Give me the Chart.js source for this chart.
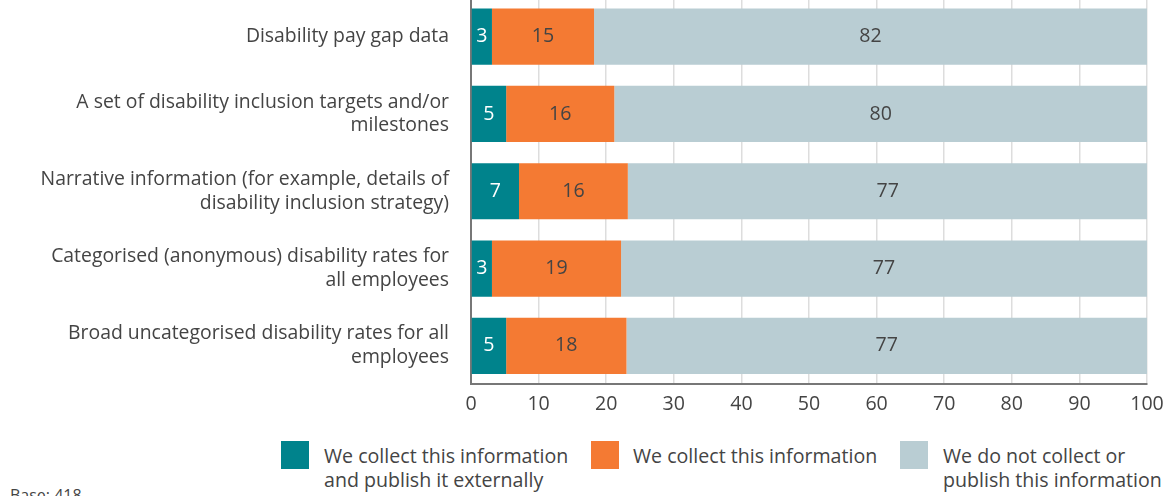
<!DOCTYPE html>
<html>
<head>
<meta charset="utf-8">
<script src="https://cdn.jsdelivr.net/npm/chart.js@4/dist/chart.umd.min.js"></script>
<style>
    body { margin: 0; background: #fff; }
    #wrap { position: relative; width: 1175px; height: 496px; overflow: hidden; font-family: "Open Sans", sans-serif; color: #444; }
    #chartBox { position: absolute; left: 0; top: -2px; width: 1175px; height: 426px; }
    .swatch { position: absolute; width: 28px; height: 28px; top: 441px; }
    .legText { position: absolute; top: 444px; font-size: 19.6px; line-height: 24px; white-space: nowrap; }
    #base { position: absolute; left: 10px; top: 484px; font-size: 16px; }
</style>
</head>
<body>
<div id="wrap">
    <div id="chartBox"><canvas id="gapChart"></canvas></div>
    <div class="swatch" style="left:281px;background:#00838c"></div>
    <div class="legText" style="left:324px">We collect this information<br>and publish it externally</div>
    <div class="swatch" style="left:591px;background:#f47a33"></div>
    <div class="legText" style="left:633px">We collect this information</div>
    <div class="swatch" style="left:900px;background:#b9cdd3"></div>
    <div class="legText" style="left:943px">We do not collect or<br>publish this information</div>
    <div id="base">Base: 418</div>
</div>
<script>
const categories = [
    ["Disability pay gap data"],
    ["A set of disability inclusion targets and/or", "milestones"],
    ["Narrative information (for example, details of", "disability inclusion strategy)"],
    ["Categorised (anonymous) disability rates for", "all employees"],
    ["Broad uncategorised disability rates for all", "employees"]
];
const seriesNames = [
    "We collect this information and publish it externally",
    "We collect this information",
    "We do not collect or publish this information"
];
// bar lengths
const publishedValues = [3.1, 5.2, 7.1, 3.1, 5.2];
const collectValues = [15.1, 16.0, 16.1, 19.1, 17.8];
const notCollectValues = [81.8, 78.8, 76.9, 77.8, 77.0];
// numbers printed inside the bars
const publishedLabels = [3, 5, 7, 3, 5];
const collectLabels = [15, 16, 16, 19, 18];
const notCollectLabels = [82, 80, 77, 77, 77];
const xTicks = [0, 10, 20, 30, 40, 50, 60, 70, 80, 90, 100];

const colors = ["#00838c", "#f47a33", "#b9cdd3"];
const textColors = ["#ffffff", "#444444", "#444444"];
const barLabels = [publishedLabels, collectLabels, notCollectLabels];

const barText = {
    id: "barText",
    afterDatasetsDraw(chart) {
        const ctx = chart.ctx;
        ctx.save();
        ctx.font = "19.6px 'Open Sans', sans-serif";
        ctx.textAlign = "center";
        ctx.textBaseline = "middle";
        chart.data.datasets.forEach((ds, i) => {
            chart.getDatasetMeta(i).data.forEach((bar, j) => {
                ctx.fillStyle = textColors[i];
                ctx.fillText(String(barLabels[i][j]), (bar.x + bar.base) / 2, bar.y);
            });
        });
        ctx.restore();
    }
};

const ctx = document.getElementById("gapChart").getContext("2d");
new Chart(ctx, {
    type: "bar",
    data: {
        labels: categories,
        datasets: [
            { label: seriesNames[0], data: publishedValues, backgroundColor: colors[0] },
            { label: seriesNames[1], data: collectValues, backgroundColor: colors[1] },
            { label: seriesNames[2], data: notCollectValues, backgroundColor: colors[2] }
        ]
    },
    options: {
        indexAxis: "y",
        responsive: true,
        maintainAspectRatio: false,
        animation: false,
        layout: { padding: { top: 0, right: 28, bottom: 0, left: 0 } },
        datasets: { bar: { barPercentage: 0.727, categoryPercentage: 1 } },
        plugins: {
            legend: { display: false },
            tooltip: { enabled: false }
        },
        scales: {
            x: {
                stacked: true,
                min: 0,
                max: 100,
                afterBuildTicks: (scale) => { scale.ticks = xTicks.map(v => ({ value: v })); },
                ticks: { color: "#444", font: { family: "Open Sans", size: 19.6 }, padding: 8 },
                grid: { color: "#dddddd", lineWidth: 1.5, drawTicks: false },
                border: { color: "#777777", width: 2 }
            },
            y: {
                stacked: true,
                afterFit: (scale) => {
                    scale.width = 471;
                    scale.paddingTop = 0;
                    scale.paddingBottom = 0;
                },
                ticks: { color: "#444", font: { family: "Open Sans", size: 19.4, lineHeight: 1.23 }, padding: 22 },
                grid: { display: false, drawTicks: false },
                border: { color: "#777777", width: 2 }
            }
        }
    },
    plugins: [barText]
});
</script>
</body>
</html>
